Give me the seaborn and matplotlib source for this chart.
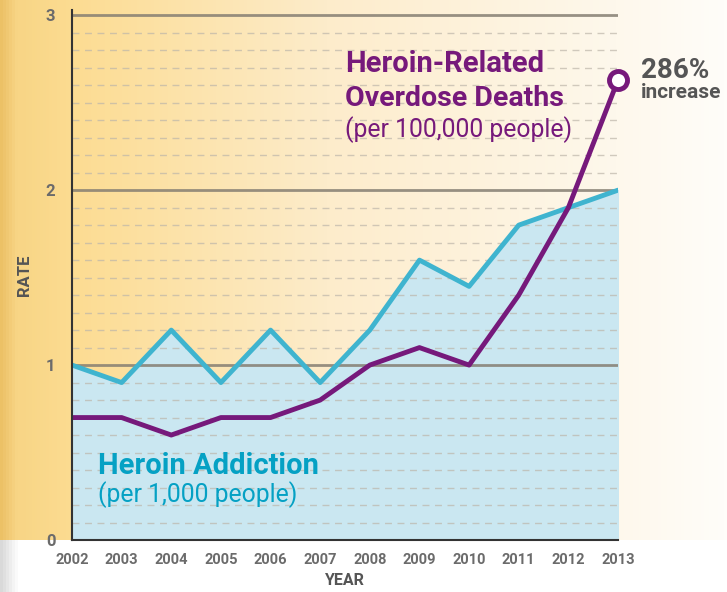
import numpy as np
import pandas as pd
import matplotlib
matplotlib.use('Agg')
import matplotlib.pyplot as plt
import seaborn as sns
from matplotlib.colors import LinearSegmentedColormap

# data
years = [2002, 2003, 2004, 2005, 2006, 2007, 2008, 2009, 2010, 2011, 2012, 2013]
addiction = [1.0, 0.9, 1.2, 0.9, 1.2, 0.9, 1.2, 1.6, 1.45, 1.8, 1.9, 2.0]
overdose = [0.7, 0.7, 0.6, 0.7, 0.7, 0.8, 1.0, 1.1, 1.0, 1.4, 1.9, 2.63]
ytick_labels = ['0', '1', '2', '3']

df = pd.DataFrame({'year': years, 'addiction': addiction, 'overdose': overdose})

sns.set_style('white')
cond = ['Roboto', 'DejaVu Sans']
plt.rcParams['font.family'] = cond

blue = '#3fb4cf'
fill_blue = '#cae7f1'
purple = '#76197b'
gray_txt = '#6b6b6b'

fig = plt.figure(figsize=(7.27, 5.92), dpi=100)

# background: orange -> cream gradient above the x axis, white below
bg = fig.add_axes([0, 0, 1, 1], zorder=-10)
W, H = 727, 592
xs = np.linspace(0, 1, W)
cmap = LinearSegmentedColormap.from_list(
    'bg', [(0, '#ecc166'), (0.02, '#f8d585'), (0.1, '#fcdc92'),
           (0.45, '#fdeccb'), (0.85, '#fef8ec'), (1, '#fffdf9')])
img = cmap(xs)[None, :, :].repeat(H, axis=0)
split = 540
gray = LinearSegmentedColormap.from_list('g', [(0, '#d9d9d9'), (0.022, '#ffffff'), (1, '#ffffff')])
img[split:] = gray(xs)[None, :, :]
bg.imshow(img, aspect='auto', extent=[0, 1, 0, 1], origin='upper')
bg.axis('off')

ax = fig.add_axes([72 / W, 52 / H, (618 - 72) / W, 530 / H])
ax.set_facecolor('none')

ax.fill_between(df['year'], df['addiction'], 0, color=fill_blue, zorder=1)
sns.lineplot(data=df, x='year', y='addiction', color=blue, lw=3.5, ax=ax, zorder=3)
sns.lineplot(data=df, x='year', y='overdose', color=purple, lw=3.5, ax=ax, zorder=4)
ax.plot(df['year'].iloc[-1], df['overdose'].iloc[-1], 'o', ms=13, mfc='white',
        mec=purple, mew=3.5, zorder=5, clip_on=False)

ax.set_xlim(2002, 2013)
ax.set_ylim(0, 3.03)

# gridlines
for v in np.arange(0.1, 3.0, 0.1):
    if abs(v - round(v)) > 1e-6:
        ax.axhline(v, color='#bdb6aa', lw=1, ls=(0, (5, 4)), alpha=0.7, zorder=2)
for v in [1, 2, 3]:
    ax.axhline(v, color='#857e72', lw=2, alpha=0.85, zorder=2)

ax.set_yticks([0, 1, 2, 3])
ax.set_yticklabels(ytick_labels)
ax.set_xticks(years)
ax.set_xticklabels([str(y) for y in years])
ax.tick_params(axis='y', length=6, width=2, color='#857e72', pad=6,
               labelsize=12, labelcolor=gray_txt)
ax.tick_params(axis='x', direction='in', length=10, width=1.5, color='#333333',
               pad=9, labelsize=10.5, labelcolor=gray_txt)
for lab in ax.get_xticklabels() + ax.get_yticklabels():
    lab.set_fontweight('bold')

for s in ['top', 'right']:
    ax.spines[s].set_visible(False)
for s in ['left', 'bottom']:
    ax.spines[s].set_color('#333333')
    ax.spines[s].set_linewidth(1.5)
    ax.spines[s].set_zorder(6)

ax.set_xlabel('YEAR', fontsize=11.5, fontweight='bold', color='#555555', labelpad=5)
ax.set_ylabel('RATE', fontsize=12, fontweight='bold', color='#555555', labelpad=10)

# annotations
fig.text(345 / W, 1 - 64 / H, 'Heroin-Related', color=purple, fontsize=21,
         fontweight='bold', va='center', family=cond)
fig.text(345 / W, 1 - 98 / H, 'Overdose Deaths', color=purple, fontsize=20.5,
         fontweight='bold', va='center', family=cond)
fig.text(345 / W, 1 - 130 / H, '(per 100,000 people)', color=purple, fontsize=17.8,
         va='center', family=cond)
fig.text(641 / W, 1 - 71 / H, '286%', color='#555555', fontsize=20,
         fontweight='bold', va='center', family=cond)
fig.text(641 / W, 1 - 93 / H, 'increase', color='#555555', fontsize=15,
         fontweight='bold', va='center', family=cond)
fig.text(98 / W, 1 - 466 / H, 'Heroin Addiction', color='#05a1c4', fontsize=21,
         fontweight='bold', va='center', family=cond)
fig.text(98 / W, 1 - 495 / H, '(per 1,000 people)', color='#05a1c4', fontsize=17.8,
         va='center', family=cond)

fig.savefig('out.png', dpi=100)
